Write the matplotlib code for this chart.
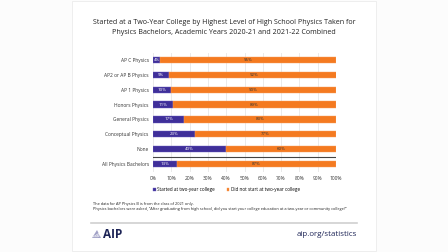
import matplotlib

matplotlib.use("Agg")
import matplotlib.pyplot as plt
from matplotlib.patches import Rectangle, Polygon

plt.rcParams["font.family"] = ["Open Sans", "DejaVu Sans"]

categories = [
    "AP C Physics",
    "AP2 or AP B Physics",
    "AP 1 Physics",
    "Honors Physics",
    "General Physics",
    "Conceptual Physics",
    "None",
    "All Physics Bachelors",
]
started = [4, 9, 10, 11, 17, 23, 40, 13]
not_started = [96, 92, 90, 89, 83, 77, 60, 87]
ticks = list(range(0, 101, 10))
tick_labels = [f"{t}%" for t in ticks]

BLUE = "#3f2f99"
ORANGE = "#f47a20"
NAVY = "#1d2456"

fig = plt.figure(figsize=(4.48, 2.52), dpi=100)
fig.patch.set_facecolor("#fcfcfc")

# white card behind everything
card = Rectangle((72 / 448, 0.005), 304 / 448, 0.99, transform=fig.transFigure,
                 facecolor="white", edgecolor="#ececec", linewidth=0.6, zorder=-10)
fig.add_artist(card)

fig.text(0.5, 1 - 23 / 252, "Started at a Two-Year College by Highest Level of High School Physics Taken for",
         ha="center", va="center", fontsize=5.1, color="#222222")
fig.text(0.5, 1 - 33 / 252, "Physics Bachelors, Academic Years 2020-21 and 2021-22 Combined",
         ha="center", va="center", fontsize=5.1, color="#222222")

ax = fig.add_axes([153 / 448, 1 - 171.5 / 252, 183 / 448, 119 / 252])
ax.set_facecolor("white")
y = list(range(len(categories)))
ax.barh(y, started, height=0.42, color=BLUE, edgecolor="#6a5fc0", linewidth=0.3,
        label="Started at two-year college", zorder=3)
ax.barh(y, not_started, left=started, height=0.42, color=ORANGE, edgecolor="#f9a060",
        linewidth=0.3, label="Did not start at two-year college", zorder=3)

for yi, s, n in zip(y, started, not_started):
    ax.text(s / 2, yi, f"{s}%", ha="center", va="center", fontsize=3.2, color="white", zorder=4)
    ax.text(s + n / 2, yi, f"{n}%", ha="center", va="center", fontsize=3.2, color="#333333", zorder=4)

ax.axhline(6.5, color="#444444", linewidth=0.8, zorder=4)
ax.set_xlim(0, 100)
ax.set_ylim(len(categories) - 0.5, -0.5)
ax.set_xticks(ticks)
ax.set_xticklabels(tick_labels)
ax.set_yticks(y)
ax.set_yticklabels(categories)
ax.tick_params(axis="both", length=0, labelsize=3.5, colors="#333333", pad=3)
ax.grid(axis="x", color="#e6e6e6", linewidth=0.6, zorder=0)
for sp in ax.spines.values():
    sp.set_visible(False)

ax.legend(loc="upper left", bbox_to_anchor=(0.0, -0.13), ncol=2, frameon=False,
          fontsize=3.3, handlelength=0.55, handleheight=0.55, handletextpad=0.35,
          columnspacing=2.6, borderpad=0, borderaxespad=0)

fig.text(93 / 448, 1 - 204 / 252, "The data for AP Physics B is from the class of 2021 only.",
         ha="left", va="center", fontsize=2.8, color="#222222")
fig.text(93 / 448, 1 - 209 / 252,
         "Physics bachelors were asked, \u201cAfter graduating from high school, did you start your college education at a two-year or community college?\u201d",
         ha="left", va="center", fontsize=2.8, color="#222222")

fig.add_artist(plt.Line2D([91 / 448, 357 / 448], [1 - 223 / 252] * 2, color="#d0d0d0", linewidth=1.2))


# AIP logo mark: small fan of slanted strokes over a base
def fx(px):
    return px / 448


def fy(py):
    return 1 - py / 252


fig.add_artist(Polygon([(fx(92), fy(238)), (fx(101), fy(238)), (fx(97), fy(230))],
                       closed=True, transform=fig.transFigure, facecolor="#8a8ab8",
                       edgecolor="none", alpha=0.8))
for i in range(3):
    fig.add_artist(plt.Line2D([fx(93 + i * 2), fx(101)], [fy(237), fy(232 + i * 1.6)],
                              color="white", linewidth=0.4))
fig.text(fx(103), fy(234.5), "AIP", ha="left", va="center", fontsize=8.5,
         fontweight="bold", color=NAVY)
fig.text(fx(357), fy(234.5), "aip.org/statistics", ha="right", va="center",
         fontsize=5.7, color=NAVY)

fig.savefig("out.png", dpi=100, facecolor=fig.get_facecolor())
